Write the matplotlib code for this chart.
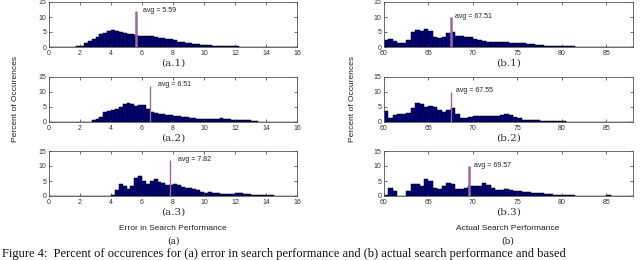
import numpy as np
import matplotlib
matplotlib.use("Agg")
import matplotlib.pyplot as plt

# ---------------- data ----------------
a_bin_width = 0.25
a_start = 0.0
b_bin_width = 0.5
b_start = 60.0

a1 = [0, 0, 0, 0, 0, 0, 0,
      0.3, 0.5, 1.2, 2.0, 2.7, 3.5, 4.3, 4.8, 5.5, 5.8, 5.5, 5.0, 4.6, 4.2, 4.2,
      4.1, 3.8, 3.6, 3.8, 3.7, 3.2, 3.0, 2.9, 2.8, 2.6, 2.2, 1.8, 1.6, 1.4, 1.2,
      1.0, 0.9, 0.8, 0.7, 0.6, 0.5, 0.4, 0.3, 0.3, 0.2, 0.2, 0.2, 0.15, 0.15,
      0.1, 0.1, 0.1,
      0, 0, 0, 0, 0, 0, 0, 0, 0, 0]
a2 = [0, 0, 0, 0, 0, 0, 0, 0, 0, 0,
      0.1, 0.5, 1.0, 1.7, 3.2, 3.5, 3.9, 4.3, 5.0, 5.9, 6.4, 5.8, 5.4, 5.5, 5.6,
      4.4, 3.4, 2.9, 2.8, 2.6, 2.3, 2.2, 2.1, 2.0, 1.7, 1.6, 1.3, 1.2, 1.1, 1.0,
      1.0, 1.0, 1.0, 1.1, 1.2, 1.0, 0.9, 0.8, 0.8, 0.6, 0.6, 0.5, 0.3, 0.2, 0.1,
      0, 0, 0, 0, 0, 0, 0, 0, 0]
a3 = [0] * 16 + [
      0.2, 2.0, 3.9, 3.3, 2.3, 3.5, 6.0, 6.7, 5.0, 3.9, 4.9, 5.8, 4.8, 4.5, 3.8,
      3.6, 4.0, 3.6, 3.0, 2.7, 2.6, 2.5, 2.0, 1.5, 1.1, 1.2, 0.9, 0.9, 0.8, 0.8,
      0.8, 0.8, 0.9, 0.9, 0.8, 0.7, 0.5, 0.4, 0.5, 0.3, 0.2, 0.2,
      0.05, 0.05, 0.05, 0.05, 0.05, 0.05]

b1 = [2.5, 2.7, 2.1, 1.2, 1.3, 2.4, 5.0, 5.8, 5.3, 6.0, 5.3, 3.4, 3.0, 3.3, 4.6,
      5.0, 3.8, 3.7, 3.5, 3.4, 2.8, 2.4, 2.0, 1.8, 1.7, 1.7, 1.7, 1.7, 1.2, 1.2,
      1.3, 1.3, 1.1, 0.9, 0.8, 0.6, 0.5, 0.3, 0.5, 0.4, 0.3, 0.3, 0.2, 0.15, 0.1,
      0.05, 0, 0, 0, 0, 0, 0, 0, 0, 0, 0]
b2 = [3.5, 1.2, 2.2, 2.5, 2.7, 3.0, 4.5, 6.2, 6.0, 4.9, 5.3, 4.8, 3.8, 3.2, 3.8,
      4.6, 2.6, 1.2, 1.4, 1.8, 2.0, 2.1, 2.1, 1.9, 1.9, 1.9, 2.3, 2.7, 2.4, 1.8,
      1.2, 0.8, 0.6, 0.5, 0.5, 0.4, 0.4, 0.3, 0.3, 0.2, 0.2, 0.1, 0.1, 0.1, 0.05,
      0.05, 0.05, 0.05, 0.05, 0.05, 0.05, 0.05, 0.05, 0.05, 0, 0]
b3 = [0.3, 2.7, 1.7, 0.1, 0.1, 1.6, 4.0, 4.0, 3.5, 5.6, 5.0, 2.8, 2.4, 3.5, 4.4,
      4.1, 2.4, 2.2, 2.8, 3.3, 3.3, 3.5, 4.2, 3.6, 2.6, 2.0, 1.9, 2.3, 1.9, 1.8,
      1.6, 1.5, 1.3, 1.0, 1.1, 1.0, 0.8, 0.6, 0.5, 0.4, 0.4, 0.2, 0.4, 0.1, 0.1,
      0.1, 0.1, 0.05, 0.1, 0.05, 0.2, 0.05, 0, 0, 0, 0]

a_avgs = [5.59, 6.51, 7.82]
b_avgs = [67.51, 67.55, 69.57]
a_avg_height = 12
b_avg_height = 10

a_panel_labels = ["(a.1)", "(a.2)", "(a.3)"]
b_panel_labels = ["(b.1)", "(b.2)", "(b.3)"]
a_xticks = [0, 2, 4, 6, 8, 10, 12, 14, 16]
b_xticks = [60, 65, 70, 75, 80, 85]
yticks = [0, 5, 10, 15]

caption = ("Figure 4:  Percent of occurences for (a) error in search performance "
           "and (b) actual search performance and based")

# ---------------- figure ----------------
W, H = 640, 260
fig = plt.figure(figsize=(W / 100, H / 100), dpi=100)
plt.rcParams['font.family'] = ['Liberation Sans', 'DejaVu Sans']

bar_color = '#00007a'
avg_color = '#9a6a9e'
a_avg_lw = [1.8, 1.0, 1.0]
b_avg_lw = [1.8, 1.0, 1.8]

rows_px = [(2, 47), (76.5, 122), (151, 196)]
left_px = (49, 297)
right_px = (384, 633)


def px_axes(xr, yr):
    return fig.add_axes([xr[0] / W, 1 - yr[1] / H, (xr[1] - xr[0]) / W,
                         (yr[1] - yr[0]) / H])


def style(ax, xlim, xticks):
    ax.set_xlim(*xlim)
    ax.set_ylim(0, 15)
    ax.set_xticks(xticks)
    ax.set_yticks(yticks)
    ax.tick_params(direction='in', length=2.5, width=0.5, labelsize=5,
                   top=True, right=True, pad=2, colors='#333333',
                   labelcolor='#333333')
    for s in ax.spines.values():
        s.set_linewidth(0.6)
        s.set_color('#555555')


def panel(ax, vals, start, width, avg, avg_h, lw, xlim, xticks, label, text_dx):
    edges = start + width * np.arange(len(vals))
    ax.bar(edges, vals, width=width, align='edge', color=bar_color,
           edgecolor='black', linewidth=0.35)
    ax.plot([edges[0], edges[-1] + width], [0.05, 0.05], color='#999999',
            lw=0.6, zorder=1)
    ax.vlines(avg, 0, avg_h, color=avg_color, lw=lw, zorder=5)
    ax.text(avg + text_dx, avg_h + 0.3, "avg = %.2f" % avg, fontsize=5,
            va='center', ha='left', color='#222222')
    style(ax, xlim, xticks)
    ax.text(0.5, -0.36, label, transform=ax.transAxes, ha='center',
            va='center', fontsize=7.5, family='DejaVu Serif', color='#333333')


a_data = [a1, a2, a3]
b_data = [b1, b2, b3]
for i in range(3):
    axl = px_axes(left_px, rows_px[i])
    panel(axl, a_data[i], a_start, a_bin_width, a_avgs[i], a_avg_height,
          a_avg_lw[i], (0, 16), a_xticks, a_panel_labels[i], 0.5)
    axr = px_axes(right_px, rows_px[i])
    panel(axr, b_data[i], b_start, b_bin_width, b_avgs[i], b_avg_height,
          b_avg_lw[i], (60, 88), b_xticks, b_panel_labels[i], 0.5)

# axis titles
fig.text(16 / W, 1 - 99 / H, "Percent of Occurences", rotation=90,
         ha='center', va='center', fontsize=6, color='#222222')
fig.text(352 / W, 1 - 99 / H, "Percent of Occurences", rotation=90,
         ha='center', va='center', fontsize=6, color='#222222')
fig.text(173 / W, 1 - 229 / H, "Error in Search Performance", ha='center',
         va='center', fontsize=6, color='#222222')
fig.text(508 / W, 1 - 229 / H, "Actual Search Performance", ha='center',
         va='center', fontsize=6, color='#222222')
fig.text(173 / W, 1 - 241 / H, "(a)", ha='center', va='center', fontsize=6.5,
         family='DejaVu Serif', color='#222222')
fig.text(508 / W, 1 - 241 / H, "(b)", ha='center', va='center', fontsize=6.5,
         family='DejaVu Serif', color='#222222')

# caption at the bottom edge
fig.text(2 / W, 3 / H, caption, ha='left', va='baseline', fontsize=9,
         family='Liberation Serif', color='#111111')

fig.savefig("out.png", dpi=100)
